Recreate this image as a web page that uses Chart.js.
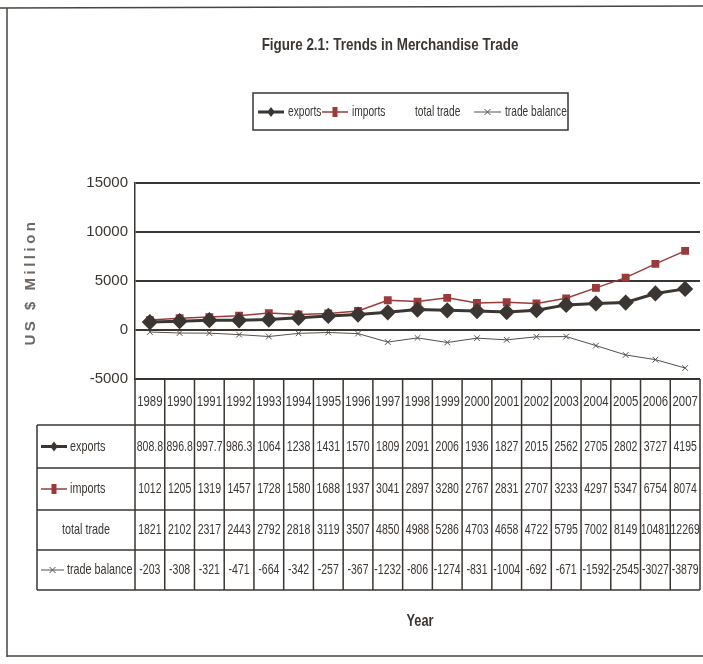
<!DOCTYPE html>
<html>
<head>
<meta charset="utf-8">
<script src="https://cdn.jsdelivr.net/npm/chart.js@4.4.1/dist/chart.umd.min.js"></script>
<style>
  body { margin: 0; background: #fff; }
  canvas { display: block; }
</style>
</head>
<body>
<canvas id="tradeChart" width="703" height="664"></canvas>
<script>
const years = ['1989', '1990', '1991', '1992', '1993', '1994', '1995', '1996', '1997', '1998',
    '1999', '2000', '2001', '2002', '2003', '2004', '2005', '2006', '2007'];
const exportsVals = [808.8, 896.8, 997.7, 986.3, 1064, 1238, 1431, 1570, 1809, 2091,
    2006, 1936, 1827, 2015, 2562, 2705, 2802, 3727, 4195];
const importsVals = [1012, 1205, 1319, 1457, 1728, 1580, 1688, 1937, 3041, 2897,
    3280, 2767, 2831, 2707, 3233, 4297, 5347, 6754, 8074];
const totalTrade = [1821, 2102, 2317, 2443, 2792, 2818, 3119, 3507, 4850, 4988,
    5286, 4703, 4658, 4722, 5795, 7002, 8149, 10481, 12269];
const tradeBalance = [-203, -308, -321, -471, -664, -342, -257, -367, -1232, -806,
    -1274, -831, -1004, -692, -671, -1592, -2545, -3027, -3879];
const yTicks = [-5000, 0, 5000, 10000, 15000];

const INK = '#3b3632';
const RED = '#9a3b3b';
const SANS = '"Liberation Sans", Arial, sans-serif';

// squeeze text horizontally to look like Arial Narrow
function narrow(ctx, text, x, y, font, align, sx) {
    ctx.save();
    ctx.font = font;
    ctx.translate(x, y);
    ctx.scale(sx || 0.8, 1);
    ctx.textAlign = align;
    ctx.textBaseline = 'middle';
    ctx.fillText(text, 0, 0);
    ctx.restore();
}

// legend / table symbol for a series
function drawSymbol(ctx, ds, x1, x2, y) {
    if (!ds.borderWidth) return;
    ctx.save();
    ctx.strokeStyle = ds.borderColor;
    ctx.lineWidth = ds.borderWidth;
    ctx.beginPath();
    ctx.moveTo(x1, y);
    ctx.lineTo(x2, y);
    ctx.stroke();
    const cx = (x1 + x2) / 2;
    const r = 5;
    ctx.fillStyle = ds.pointBackgroundColor;
    ctx.beginPath();
    if (ds.pointStyle === 'rectRot') {
        ctx.moveTo(cx, y - r); ctx.lineTo(cx + r * 0.75, y); ctx.lineTo(cx, y + r); ctx.lineTo(cx - r * 0.75, y);
        ctx.closePath(); ctx.fill();
    } else if (ds.pointStyle === 'rect') {
        ctx.fillRect(cx - 2.5, y - r, 5, r * 2);
    } else if (ds.pointStyle === 'crossRot') {
        ctx.lineWidth = 1;
        ctx.moveTo(cx - 3, y - 3); ctx.lineTo(cx + 3, y + 3);
        ctx.moveTo(cx + 3, y - 3); ctx.lineTo(cx - 3, y + 3);
        ctx.stroke();
    }
    ctx.restore();
}

const extras = {
    id: 'extras',
    afterDraw(chart) {
        const ctx = chart.ctx;
        const xs = chart.scales.x;
        const area = chart.chartArea;
        const sets = chart.data.datasets;
        const colW = (area.right - area.left) / years.length;
        ctx.save();

        // outer frame
        ctx.strokeStyle = '#4a4540';
        ctx.lineWidth = 1.5;
        ctx.beginPath();
        ctx.moveTo(0, 8); ctx.lineTo(703, 6);
        ctx.moveTo(7, 8); ctx.lineTo(7, 657);
        ctx.moveTo(7, 656); ctx.lineTo(703, 656);
        ctx.stroke();

        // title
        ctx.fillStyle = INK;
        narrow(ctx, 'Figure 2.1: Trends in Merchandise Trade', 390, 45, 'bold 17px ' + SANS, 'center', 0.79);

        // legend
        ctx.lineWidth = 1.5;
        ctx.strokeStyle = INK;
        ctx.strokeRect(253, 93, 315, 37);
        const legendPos = [[258, 288], [322, 352], [null, 415], [474, 505]];
        sets.forEach((ds, i) => {
            const [sx, tx] = legendPos[i];
            if (sx !== null) drawSymbol(ctx, ds, sx, tx - 4, 112);
            ctx.fillStyle = INK;
            narrow(ctx, ds.label, tx, 112, '15px ' + SANS, 'left', 0.68);
        });

        // y axis title
        ctx.save();
        ctx.translate(31, 282);
        ctx.rotate(-Math.PI / 2);
        ctx.font = 'bold 15px ' + SANS;
        ctx.letterSpacing = '3.5px';
        ctx.fillStyle = '#6e6863';
        ctx.textAlign = 'center';
        ctx.textBaseline = 'middle';
        ctx.fillText('US $ Million', 0, 0);
        ctx.restore();

        // data table
        const top = area.bottom;
        const rows = [top, 425, 468, 510, 550, 590];
        const labelLeft = 37;
        ctx.strokeStyle = INK;
        ctx.lineWidth = 1.5;
        ctx.beginPath();
        ctx.moveTo(area.left, rows[0]); ctx.lineTo(area.right, rows[0]);
        for (let r = 1; r < rows.length; r++) {
            ctx.moveTo(labelLeft, rows[r]); ctx.lineTo(area.right, rows[r]);
        }
        ctx.moveTo(labelLeft, rows[1]); ctx.lineTo(labelLeft, rows[5]);
        for (let c = 0; c <= years.length; c++) {
            const x = area.left + c * colW;
            ctx.moveTo(x, rows[0]); ctx.lineTo(x, rows[5]);
        }
        ctx.stroke();

        ctx.fillStyle = INK;
        years.forEach((y, i) => {
            const cx = xs.getPixelForValue(i);
            narrow(ctx, y, cx, (rows[0] + rows[1]) / 2, '15px ' + SANS, 'center', 0.76);
            sets.forEach((ds, r) => {
                narrow(ctx, String(ds.data[i]), cx, (rows[r + 1] + rows[r + 2]) / 2, '15px ' + SANS, 'center', 0.7);
            });
        });

        // row labels
        const labelPos = [[41, 70], [41, 70], [null, 62], [41, 67]];
        sets.forEach((ds, r) => {
            const cy = (rows[r + 1] + rows[r + 2]) / 2;
            const [sx, tx] = labelPos[r];
            if (sx !== null) drawSymbol(ctx, ds, sx, tx - 3, cy);
            ctx.fillStyle = INK;
            narrow(ctx, ds.label, tx, cy, '15px ' + SANS, 'left', 0.72);
        });

        // x axis title
        narrow(ctx, 'Year', 420, 622, 'bold 16px ' + SANS, 'center', 0.8);
        ctx.restore();
    }
};

new Chart(document.getElementById('tradeChart'), {
    type: 'line',
    data: {
        labels: years,
        datasets: [{
            label: 'exports',
            data: exportsVals,
            borderColor: INK,
            backgroundColor: INK,
            pointBackgroundColor: INK,
            borderWidth: 3,
            pointStyle: 'rectRot',
            pointRadius: 6
        }, {
            label: 'imports',
            data: importsVals,
            borderColor: RED,
            backgroundColor: RED,
            pointBackgroundColor: RED,
            borderWidth: 1.5,
            pointStyle: 'rect',
            pointRadius: 4.5
        }, {
            label: 'total trade',
            data: totalTrade,
            borderColor: 'rgba(0,0,0,0)',
            backgroundColor: 'rgba(0,0,0,0)',
            pointBackgroundColor: 'rgba(0,0,0,0)',
            borderWidth: 0,
            showLine: false,
            pointRadius: 0
        }, {
            label: 'trade balance',
            data: tradeBalance,
            borderColor: '#55504b',
            backgroundColor: '#55504b',
            pointBackgroundColor: '#55504b',
            borderWidth: 1,
            pointStyle: 'crossRot',
            pointRadius: 4
        }]
    },
    options: {
        responsive: false,
        animation: false,
        devicePixelRatio: 1,
        layout: { autoPadding: false, padding: { top: 183, right: 3, bottom: 277, left: 0 } },
        plugins: {
            legend: { display: false },
            title: { display: false },
            tooltip: { enabled: false }
        },
        scales: {
            x: {
                offset: true,
                grid: { display: false },
                border: { display: false },
                ticks: { display: false }
            },
            y: {
                min: -5000,
                max: 15000,
                afterBuildTicks(scale) {
                    scale.ticks = yTicks.map(v => ({ value: v }));
                },
                afterFit(scale) { scale.width = 135; },
                grid: { color: INK, lineWidth: 2, drawTicks: false },
                border: { display: true, color: INK, width: 1.5 },
                ticks: {
                    padding: 7,
                    color: INK,
                    font: { family: SANS, size: 15 },
                    callback: v => String(v)
                }
            }
        }
    },
    plugins: [extras]
});
</script>
</body>
</html>
